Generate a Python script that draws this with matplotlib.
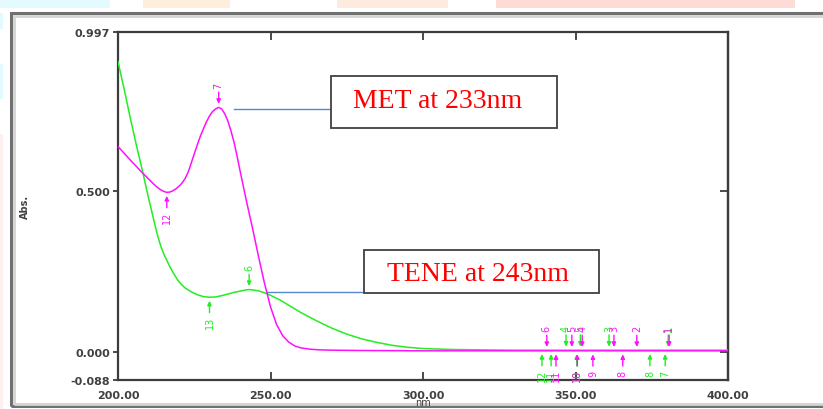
import matplotlib.pyplot as plt
import matplotlib.patches as mpatches

# ── data ───────────────────────────────────────────────
met_wl = [200, 204, 208, 210, 212, 213, 214, 215, 216, 217, 218, 219, 220, 221, 222,
          223, 224, 225, 226, 227, 228, 229, 230, 231, 232, 233, 234, 235, 236, 237,
          238, 239, 240, 241, 242, 243, 244, 246, 248, 250, 252, 254, 256, 258, 260,
          263, 266, 270, 280, 300, 340, 400]
met_abs = [0.640, 0.598, 0.558, 0.539, 0.520, 0.512, 0.505, 0.500, 0.497, 0.498, 0.502,
           0.508, 0.516, 0.526, 0.540, 0.560, 0.588, 0.617, 0.645, 0.672, 0.695, 0.717,
           0.735, 0.749, 0.757, 0.762, 0.757, 0.742, 0.720, 0.690, 0.655, 0.612, 0.565,
           0.520, 0.475, 0.432, 0.390, 0.300, 0.215, 0.140, 0.085, 0.050, 0.030, 0.018,
           0.012, 0.008, 0.006, 0.005, 0.004, 0.003, 0.003, 0.003]

tene_wl = [200, 201, 202, 203, 204, 205, 206, 207, 208, 209, 210, 211, 212, 213, 214,
           215, 216, 217, 218, 219, 220, 221, 222, 224, 226, 228, 230, 232, 234, 236,
           238, 240, 242, 243, 244, 246, 248, 250, 253, 256, 260, 265, 270, 275, 280,
           285, 290, 295, 300, 310, 330, 400]
tene_abs = [0.905, 0.862, 0.820, 0.775, 0.730, 0.688, 0.645, 0.605, 0.565, 0.522, 0.480,
            0.440, 0.400, 0.362, 0.330, 0.305, 0.285, 0.265, 0.248, 0.232, 0.218, 0.208,
            0.199, 0.187, 0.178, 0.172, 0.170, 0.171, 0.175, 0.180, 0.185, 0.189, 0.193,
            0.194, 0.193, 0.190, 0.184, 0.176, 0.162, 0.145, 0.122, 0.097, 0.074, 0.055,
            0.040, 0.029, 0.020, 0.014, 0.010, 0.007, 0.005, 0.005]

# peak / valley picks: (wavelength, absorbance, label)
met_peaks = [(233, 0.762, '7'), (340.6, 0.004, '6'), (348.8, 0.004, '5'),
             (352.2, 0.004, '4'), (362.6, 0.004, '3'), (370.1, 0.004, '2'),
             (380.7, 0.004, '1')]
met_valleys = [(216, 0.497, '12'), (343.6, 0.003, '11'), (350.6, 0.003, '10'),
               (355.7, 0.003, '9'), (365.5, 0.003, '8')]
tene_peaks = [(243, 0.194, '6'), (346.9, 0.005, '4'), (351.6, 0.005, '5'),
              (361.0, 0.005, '3'), (380.4, 0.005, '1')]
tene_valleys = [(230, 0.170, '13'), (339.0, 0.004, '12'), (342.0, 0.004, '11'),
                (350.4, 0.004, '10'), (374.4, 0.004, '8'), (379.4, 0.004, '7')]

x_ticks = [200, 250, 300, 350, 400]
y_ticks = [-0.088, 0.0, 0.5, 0.997]

MAGENTA = '#ff10ff'
GREEN = '#22ee22'
GREY = '#3c3c3c'

W, H = 823, 410
fig = plt.figure(figsize=(W / 100, H / 100), dpi=100)
fig.patch.set_facecolor('white')


def px_rect(x0, y0, x1, y1, **kw):
    # rectangle given in figure pixels (origin top-left)
    r = mpatches.Rectangle((x0 / W, 1 - y1 / H), (x1 - x0) / W, (y1 - y0) / H,
                           transform=fig.transFigure, zorder=-1, **kw)
    fig.patches.append(r)


# page background bits above the frame
px_rect(0, 0, 110, 9, facecolor='#e3fbfe', edgecolor='none')
px_rect(143, 0, 230, 9, facecolor='#fdeede', edgecolor='none')
px_rect(337, 0, 448, 9, facecolor='#fdebdf', edgecolor='none')
px_rect(496, 0, 795, 9, facecolor='#fddcd6', edgecolor='none')
px_rect(0, 14, 3, 30, facecolor='#e3fbfe', edgecolor='none')
px_rect(0, 65, 3, 100, facecolor='#e3fbfe', edgecolor='none')
px_rect(0, 135, 3, 410, facecolor='#fff0f0', edgecolor='none')

# window frame around the plot
px_rect(11, 14, 830, 407, facecolor='none', edgecolor='#707070', linewidth=2.2)
px_rect(13.5, 16.5, 830, 404.5, facecolor='none', edgecolor='#d4d4d4', linewidth=2)

ax = fig.add_axes([118 / W, 1 - 381 / H, 610 / W, 348 / H])
ax.plot(tene_wl, tene_abs, color=GREEN, lw=1.1, zorder=3)
ax.plot(met_wl, met_abs, color=MAGENTA, lw=1.1, zorder=4)


def pick(wl, val, lab, color, up):
    s = 1 if up else -1
    ax.annotate('', xy=(wl, val), xytext=(0, s * 11), textcoords='offset points',
                arrowprops=dict(arrowstyle='-|>,head_length=0.25,head_width=0.12',
                                color=color, lw=1.0, shrinkA=0, shrinkB=2.5), zorder=5)
    off = 16 if len(lab) == 1 else 17.5
    ax.annotate(lab, xy=(wl, val), xytext=(0, s * off), textcoords='offset points',
                rotation=90, ha='center', va='center',
                fontsize=7, color=color, zorder=5)


for wl, v, lab in tene_peaks:
    pick(wl, v, lab, GREEN, True)
for wl, v, lab in tene_valleys:
    pick(wl, v, lab, GREEN, False)
for wl, v, lab in met_peaks:
    pick(wl, v, lab, MAGENTA, True)
for wl, v, lab in met_valleys:
    pick(wl, v, lab, MAGENTA, False)

ax.set_xlim(200, 400)
ax.set_ylim(-0.088, 0.997)
ax.set_xticks(x_ticks)
ax.set_xticklabels([f"{t:.2f}" for t in x_ticks])
ax.set_yticks(y_ticks)
ax.set_yticklabels([f"{t:.3f}" for t in y_ticks])
ax.tick_params(axis='x', direction='in', length=6, width=1.3, top=True,
               color=GREY, pad=7, labelsize=8, labelcolor='#404040')
ax.tick_params(axis='y', direction='out', length=3.5, width=1.3,
               color=GREY, pad=2, labelsize=8, labelcolor='#404040')
for lab in ax.get_xticklabels() + ax.get_yticklabels():
    lab.set_fontweight('bold')
for sp in ax.spines.values():
    sp.set_color(GREY)
    sp.set_linewidth(1.6)

sec = ax.secondary_yaxis('right')
sec.set_yticks([0.0, 0.5])
sec.tick_params(direction='in', length=6, width=1.3, color=GREY, labelright=False)
sec.spines['right'].set_color(GREY)
sec.spines['right'].set_linewidth(1.6)

ax.set_xlabel('nm', fontsize=7, color='#404040', labelpad=0)
ax.xaxis.set_label_coords(0.5, -0.05)
ax.set_ylabel('Abs.', fontsize=7, color='#404040', fontweight='bold')
ax.yaxis.set_label_coords(-0.145, 0.5)

# call-out boxes
ax.plot([0.190, 0.349], [0.7787, 0.7787], transform=ax.transAxes,
        color='#5b87c8', lw=1.0, zorder=2)
ax.add_patch(mpatches.Rectangle((0.349, 0.724), 0.3707, 0.1496, transform=ax.transAxes,
                                facecolor='white', edgecolor='#404040', lw=1.3, zorder=6))
ax.text(0.524, 0.7845, 'MET at 233nm', transform=ax.transAxes, ha='center',
        va='baseline', fontsize=20, color='red', family='Liberation Serif', zorder=7)

ax.plot([0.2443, 0.4033], [0.2529, 0.2529], transform=ax.transAxes,
        color='#5b87c8', lw=1.0, zorder=2)
ax.add_patch(mpatches.Rectangle((0.4033, 0.25), 0.3852, 0.1236, transform=ax.transAxes,
                                facecolor='white', edgecolor='#404040', lw=1.3, zorder=6))
ax.text(0.590, 0.2874, 'TENE at 243nm', transform=ax.transAxes, ha='center',
        va='baseline', fontsize=20, color='red', family='Liberation Serif', zorder=7)

fig.savefig('out.png', dpi=100, facecolor='white')
